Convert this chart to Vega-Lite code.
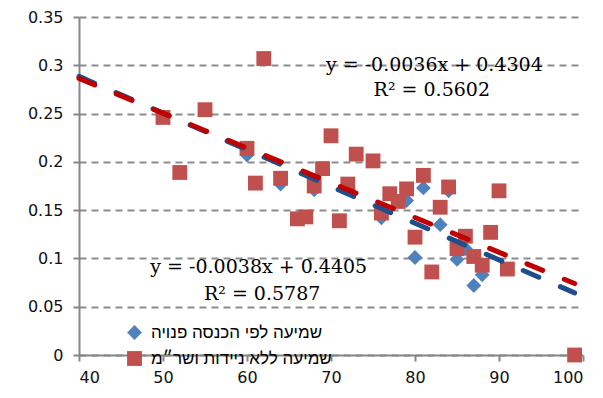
{
  "$schema": "https://vega.github.io/schema/vega-lite/v6.json",
  "width": 504,
  "height": 338,
  "autosize": {"type": "none"},
  "padding": {"left": 79, "top": 17, "right": 20, "bottom": 43},
  "background": "white",
  "config": {
    "view": {"stroke": null},
    "axis": {
      "domainColor": "#868686",
      "domainWidth": 2,
      "tickColor": "#868686",
      "tickWidth": 2,
      "tickSize": 6,
      "labelFont": "DejaVu Sans",
      "labelFontSize": 16,
      "labelColor": "#111111",
      "title": null
    },
    "legend": {
      "orient": "none",
      "legendX": 47,
      "legendY": 307,
      "title": null,
      "labelFont": "Liberation Sans",
      "labelFontSize": 17,
      "labelColor": "#000000",
      "labelLimit": 400,
      "symbolSize": 220,
      "symbolStrokeWidth": 0,
      "symbolOpacity": 1,
      "rowPadding": 8,
      "labelOffset": 8
    }
  },
  "datasets": {
    "points": [
      {"x": 60, "y": 0.207, "s": "שמיעה לפי הכנסה פנויה"},
      {"x": 64, "y": 0.177, "s": "שמיעה לפי הכנסה פנויה"},
      {"x": 68, "y": 0.171, "s": "שמיעה לפי הכנסה פנויה"},
      {"x": 76, "y": 0.142, "s": "שמיעה לפי הכנסה פנויה"},
      {"x": 79, "y": 0.160, "s": "שמיעה לפי הכנסה פנויה"},
      {"x": 80, "y": 0.101, "s": "שמיעה לפי הכנסה פנויה"},
      {"x": 81, "y": 0.173, "s": "שמיעה לפי הכנסה פנויה"},
      {"x": 83, "y": 0.135, "s": "שמיעה לפי הכנסה פנויה"},
      {"x": 84, "y": 0.170, "s": "שמיעה לפי הכנסה פנויה"},
      {"x": 85, "y": 0.099, "s": "שמיעה לפי הכנסה פנויה"},
      {"x": 86, "y": 0.110, "s": "שמיעה לפי הכנסה פנויה"},
      {"x": 87, "y": 0.072, "s": "שמיעה לפי הכנסה פנויה"},
      {"x": 88, "y": 0.083, "s": "שמיעה לפי הכנסה פנויה"},
      {"x": 50, "y": 0.246, "s": "שמיעה ללא ניידות ושר״מ"},
      {"x": 52, "y": 0.189, "s": "שמיעה ללא ניידות ושר״מ"},
      {"x": 55, "y": 0.254, "s": "שמיעה ללא ניידות ושר״מ"},
      {"x": 60, "y": 0.214, "s": "שמיעה ללא ניידות ושר״מ"},
      {"x": 61, "y": 0.178, "s": "שמיעה ללא ניידות ושר״מ"},
      {"x": 62, "y": 0.307, "s": "שמיעה ללא ניידות ושר״מ"},
      {"x": 64, "y": 0.183, "s": "שמיעה ללא ניידות ושר״מ"},
      {"x": 66, "y": 0.141, "s": "שמיעה ללא ניידות ושר״מ"},
      {"x": 67, "y": 0.143, "s": "שמיעה ללא ניידות ושר״מ"},
      {"x": 68, "y": 0.175, "s": "שמיעה ללא ניידות ושר״מ"},
      {"x": 69, "y": 0.193, "s": "שמיעה ללא ניידות ושר״מ"},
      {"x": 70, "y": 0.227, "s": "שמיעה ללא ניידות ושר״מ"},
      {"x": 71, "y": 0.139, "s": "שמיעה ללא ניידות ושר״מ"},
      {"x": 72, "y": 0.177, "s": "שמיעה ללא ניידות ושר״מ"},
      {"x": 73, "y": 0.208, "s": "שמיעה ללא ניידות ושר״מ"},
      {"x": 75, "y": 0.201, "s": "שמיעה ללא ניידות ושר״מ"},
      {"x": 76, "y": 0.147, "s": "שמיעה ללא ניידות ושר״מ"},
      {"x": 77, "y": 0.167, "s": "שמיעה ללא ניידות ושר״מ"},
      {"x": 78, "y": 0.159, "s": "שמיעה ללא ניידות ושר״מ"},
      {"x": 79, "y": 0.172, "s": "שמיעה ללא ניידות ושר״מ"},
      {"x": 80, "y": 0.122, "s": "שמיעה ללא ניידות ושר״מ"},
      {"x": 81, "y": 0.186, "s": "שמיעה ללא ניידות ושר״מ"},
      {"x": 82, "y": 0.086, "s": "שמיעה ללא ניידות ושר״מ"},
      {"x": 83, "y": 0.153, "s": "שמיעה ללא ניידות ושר״מ"},
      {"x": 84, "y": 0.174, "s": "שמיעה ללא ניידות ושר״מ"},
      {"x": 85, "y": 0.110, "s": "שמיעה ללא ניידות ושר״מ"},
      {"x": 86, "y": 0.123, "s": "שמיעה ללא ניידות ושר״מ"},
      {"x": 87, "y": 0.102, "s": "שמיעה ללא ניידות ושר״מ"},
      {"x": 88, "y": 0.093, "s": "שמיעה ללא ניידות ושר״מ"},
      {"x": 89, "y": 0.127, "s": "שמיעה ללא ניידות ושר״מ"},
      {"x": 90, "y": 0.170, "s": "שמיעה ללא ניידות ושר״מ"},
      {"x": 91, "y": 0.089, "s": "שמיעה ללא ניידות ושר״מ"},
      {"x": 99, "y": 0.0, "s": "שמיעה ללא ניידות ושר״מ"}
    ],
    "trendBlue": [
      {"x": 40, "y": 0.2885},
      {"x": 99, "y": 0.0643}
    ],
    "trendRed": [
      {"x": 40, "y": 0.2864},
      {"x": 99, "y": 0.0740}
    ]
  },
  "layer": [
    {
      "data": {"name": "points"},
      "mark": {"type": "point", "filled": true, "opacity": 1, "size": 220},
      "encoding": {
        "x": {
          "field": "x", "type": "quantitative",
          "scale": {"domain": [40, 100], "nice": false, "zero": false},
          "axis": {"values": [40, 50, 60, 70, 80, 90, 100], "grid": false, "labelPadding": 8}
        },
        "y": {
          "field": "y", "type": "quantitative",
          "scale": {"domain": [0, 0.35], "nice": false},
          "axis": {
            "values": [0, 0.05, 0.1, 0.15, 0.2, 0.25, 0.3, 0.35],
            "format": ".2~f",
            "grid": true,
            "gridColor": "#8c8c8c",
            "gridDash": [7, 5],
            "gridWidth": 2,
            "labelPadding": 10
          }
        },
        "color": {
          "field": "s", "type": "nominal",
          "scale": {
            "domain": ["שמיעה לפי הכנסה פנויה", "שמיעה ללא ניידות ושר״מ"],
            "range": ["#4F81BD", "#C0504D"]
          }
        },
        "shape": {
          "field": "s", "type": "nominal",
          "scale": {
            "domain": ["שמיעה לפי הכנסה פנויה", "שמיעה ללא ניידות ושר״מ"],
            "range": ["diamond", "square"]
          }
        }
      }
    },
    {
      "data": {"name": "trendBlue"},
      "mark": {"type": "line", "color": "#1F4E8C", "strokeWidth": 5, "strokeCap": "round", "strokeDash": [17, 23.4]},
      "encoding": {
        "x": {"field": "x", "type": "quantitative"},
        "y": {"field": "y", "type": "quantitative"}
      }
    },
    {
      "data": {"name": "trendRed"},
      "mark": {"type": "line", "color": "#C00000", "strokeWidth": 5, "strokeCap": "round", "strokeDash": [17, 23.4]},
      "encoding": {
        "x": {"field": "x", "type": "quantitative"},
        "y": {"field": "y", "type": "quantitative"}
      }
    },
    {
      "data": {"values": [{}]},
      "mark": {"type": "text", "font": "DejaVu Serif", "fontSize": 19, "align": "center", "baseline": "middle", "color": "#000000", "text": "y = -0.0036x + 0.4304"},
      "encoding": {"x": {"datum": 82.3}, "y": {"datum": 0.3002}}
    },
    {
      "data": {"values": [{}]},
      "mark": {"type": "text", "font": "DejaVu Serif", "fontSize": 19, "align": "center", "baseline": "middle", "color": "#000000", "text": "R² = 0.5602"},
      "encoding": {"x": {"datum": 82.0}, "y": {"datum": 0.2743}}
    },
    {
      "data": {"values": [{}]},
      "mark": {"type": "text", "font": "DejaVu Serif", "fontSize": 19, "align": "center", "baseline": "middle", "color": "#000000", "text": "y = -0.0038x + 0.4405"},
      "encoding": {"x": {"datum": 61.4}, "y": {"datum": 0.0911}}
    },
    {
      "data": {"values": [{}]},
      "mark": {"type": "text", "font": "DejaVu Serif", "fontSize": 19, "align": "center", "baseline": "middle", "color": "#000000", "text": "R² = 0.5787"},
      "encoding": {"x": {"datum": 61.8}, "y": {"datum": 0.0631}}
    }
  ]
}
